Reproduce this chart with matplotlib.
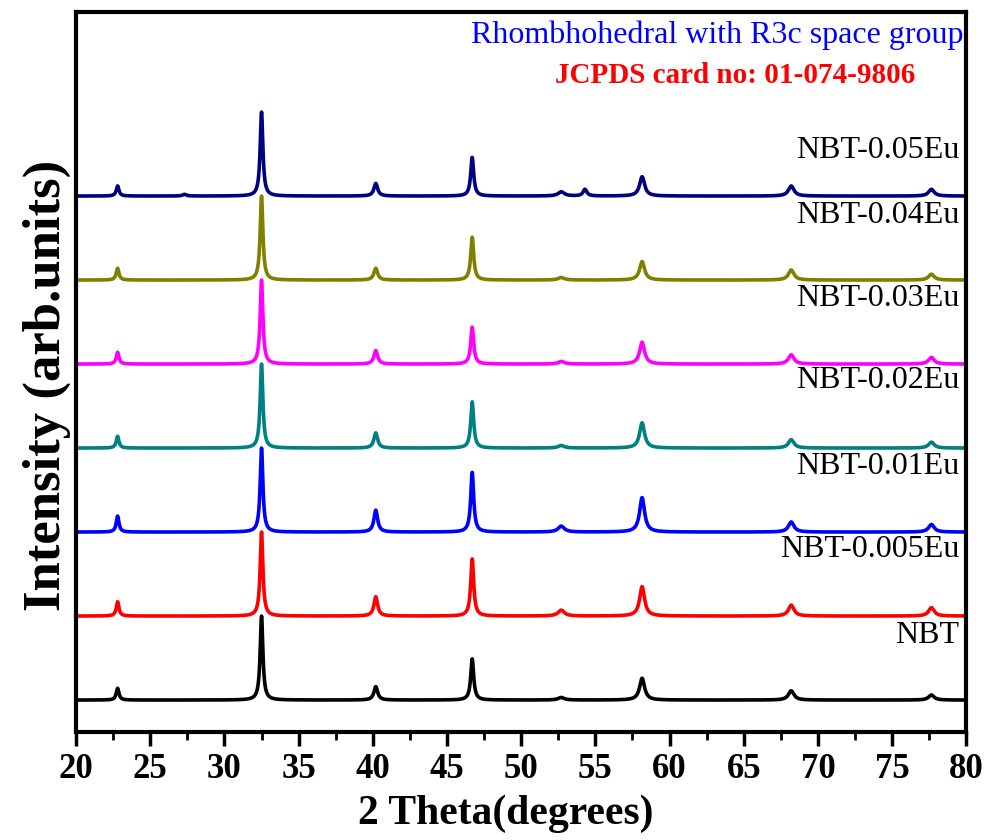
import matplotlib.pyplot as plt
import numpy as np

# peak positions (2 theta)
peak_pos = [22.8, 27.3, 32.5, 40.2, 46.7, 52.7, 54.3, 58.15, 68.2, 77.65]
peak_fwhm = [0.22, 0.3, 0.22, 0.3, 0.24, 0.5, 0.3, 0.4, 0.45, 0.45]

# relative peak heights per sample (main 32.5 peak = 1)
samples = ["NBT", "NBT-0.005Eu", "NBT-0.01Eu", "NBT-0.02Eu",
           "NBT-0.03Eu", "NBT-0.04Eu", "NBT-0.05Eu"]
colors = ["black", "red", "blue", "#008080", "magenta", "#808000", "#000080"]
heights = [
    [0.14, 0.0, 1.0, 0.16, 0.49, 0.03, 0.0, 0.26, 0.11, 0.06],   # NBT
    [0.17, 0.0, 1.0, 0.23, 0.68, 0.07, 0.0, 0.35, 0.13, 0.10],   # 0.005Eu
    [0.19, 0.0, 1.0, 0.26, 0.71, 0.07, 0.0, 0.41, 0.12, 0.09],   # 0.01Eu
    [0.14, 0.0, 1.0, 0.18, 0.55, 0.03, 0.0, 0.30, 0.10, 0.07],   # 0.02Eu
    [0.14, 0.0, 1.0, 0.16, 0.44, 0.03, 0.0, 0.26, 0.11, 0.08],   # 0.03Eu
    [0.14, 0.0, 1.0, 0.14, 0.51, 0.03, 0.0, 0.22, 0.12, 0.07],   # 0.04Eu
    [0.12, 0.02, 1.0, 0.15, 0.46, 0.05, 0.08, 0.23, 0.12, 0.08],  # 0.05Eu
]
# label height above each baseline
label_offset = [0.77, 0.79, 0.78, 0.8, 0.78, 0.77, 0.54]

two_theta = np.linspace(20, 80, 6001)


def pattern(h):
    y = np.zeros_like(two_theta)
    for p, w, a in zip(peak_pos, peak_fwhm, h):
        g = (w / 2) ** 2
        y += a * g / ((two_theta - p) ** 2 + g)
    return y


plt.rcParams['font.family'] = ['Liberation Serif', 'DejaVu Serif']

fig = plt.figure(figsize=(9.88, 8.4), dpi=100)
ax = fig.add_axes([0.077, 0.1286, 0.901, 0.857])

for i, (name, c, h) in enumerate(zip(samples, colors, heights)):
    ax.plot(two_theta, pattern(h) + i, color=c, lw=2.6)
    ax.text(79.55, i + label_offset[i], name, ha='right', va='center', fontsize=23)

ax.set_xlim(20, 80)
ax.set_ylim(-0.38, 8.19)
ax.set_xticks(np.arange(20, 81, 5))
ax.set_xticks(np.arange(22.5, 80, 5), minor=True)
ax.set_yticks([])
ax.tick_params(axis='x', which='major', direction='out', length=10, width=2.5,
               labelsize=25, pad=5)
ax.tick_params(axis='x', which='minor', direction='out', length=6, width=2)
for lab in ax.get_xticklabels():
    lab.set_fontweight('bold')
for s in ax.spines.values():
    s.set_linewidth(3)

ax.set_xlabel("2 Theta(degrees)", fontsize=30, fontweight='bold', labelpad=6)
ax.set_ylabel("Intensity (arb.units)", fontsize=38, fontweight='bold', labelpad=4)
ax.xaxis.label.set_x(0.483)
ax.yaxis.label.set_y(0.482)

ax.text(0.997, 0.988, "Rhombhohedral with R3c space group", transform=ax.transAxes,
        ha='right', va='top', color='blue', fontsize=23)
ax.text(0.943, 0.93, "JCPDS card no: 01-074-9806", transform=ax.transAxes,
        ha='right', va='top', color='red', fontsize=21, fontweight='bold')

fig.savefig("out.png", dpi=100)
